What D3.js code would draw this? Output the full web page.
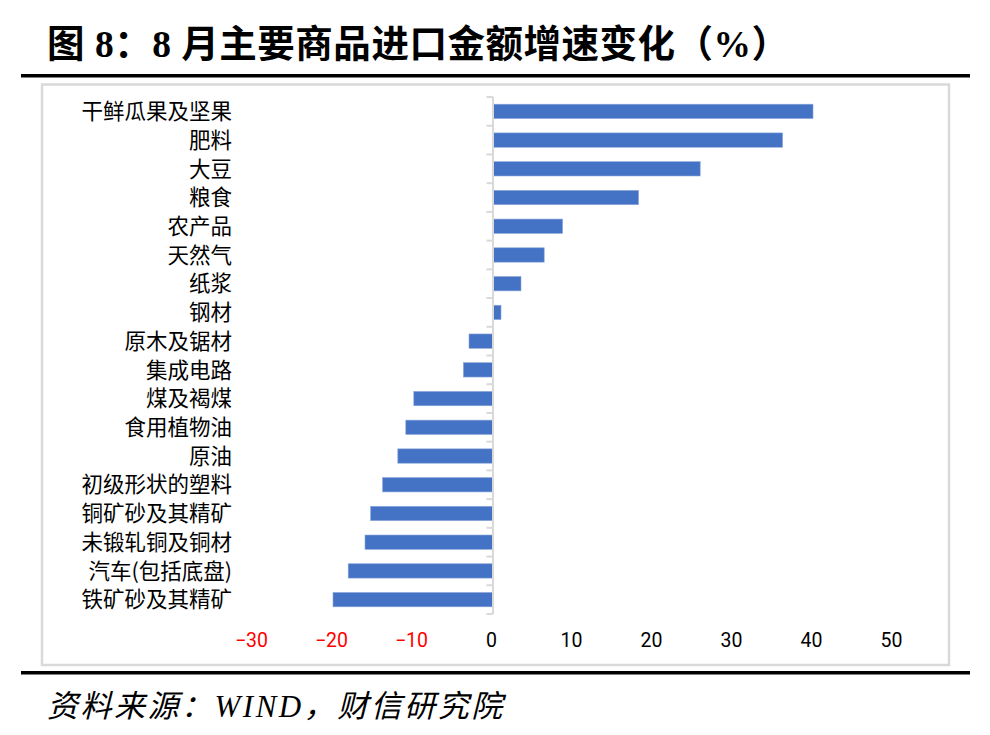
<!DOCTYPE html>
<html>
<head>
<meta charset="utf-8">
<script src="https://cdn.jsdelivr.net/npm/d3@7"></script>
<style>
  html, body { margin: 0; padding: 0; background: #fff; }
  svg { display: block; }
</style>
</head>
<body>
<svg id="chart" width="990" height="735"></svg>
<script>
const titleText = "图 8：8 月主要商品进口金额增速变化（%）";
const sourceText = "资料来源：WIND，财信研究院";
const categories = ["干鲜瓜果及坚果","肥料","大豆","粮食","农产品","天然气","纸浆","钢材","原木及锯材","集成电路","煤及褐煤","食用植物油","原油","初级形状的塑料","铜矿砂及其精矿","未锻轧铜及铜材","汽车(包括底盘)","铁矿砂及其精矿"];
const values = [40.0, 36.2, 25.9, 18.2, 8.7, 6.4, 3.5, 1.0, -3.0, -3.7, -9.9, -10.9, -11.9, -13.8, -15.3, -16.0, -18.1, -20.0];
const xTicks = [-30, -20, -10, 0, 10, 20, 30, 40, 50];

const svg = d3.select("#chart");
const CJK = "'Noto Sans CJK SC', 'Noto Sans', sans-serif";

// Title
svg.append("text")
  .attr("x", 47).attr("y", 57)
  .attr("font-family", "'Liberation Serif', 'Noto Sans CJK SC', serif")
  .attr("font-weight", "bold")
  .attr("font-size", 37.5)
  .attr("textLength", 742)
  .attr("lengthAdjust", "spacing")
  .attr("fill", "#000")
  .text(titleText);

// Rules
svg.append("rect").attr("x", 21).attr("y", 74).attr("width", 949).attr("height", 3.5).attr("fill", "#000");
svg.append("rect").attr("x", 21).attr("y", 671).attr("width", 949).attr("height", 3.5).attr("fill", "#000");

// Chart border
svg.append("rect").attr("x", 42).attr("y", 84.5).attr("width", 907).attr("height", 580.5)
  .attr("fill", "#fff").attr("stroke", "#d9d9d9").attr("stroke-width", 2.5);

// Scales
const x = d3.scaleLinear().domain([-30, 50]).range([253, 893]);
const y = d3.scaleBand().domain(categories).range([97, 614]).paddingInner(0.5).paddingOuter(0.25);

// Bars
svg.append("g").selectAll("rect").data(categories).join("rect")
  .attr("x", (d, i) => x(Math.min(0, values[i])))
  .attr("y", d => y(d))
  .attr("width", (d, i) => Math.abs(x(values[i]) - x(0)))
  .attr("height", y.bandwidth())
  .attr("fill", "#4472c4")
  .attr("stroke", "#8ea9db")
  .attr("stroke-width", 0.6);

// Category axis line and boundary ticks
const gap = (y.step() - y.bandwidth()) / 2;
const bounds = categories.map(d => y(d) - gap).concat([y(categories[categories.length - 1]) + y.bandwidth() + gap]);
const axisG = svg.append("g");
axisG.selectAll("line.tk").data(bounds).join("line")
  .attr("class", "tk")
  .attr("x1", x(0) - 6.5).attr("x2", x(0))
  .attr("y1", d => d).attr("y2", d => d)
  .attr("stroke", "#d9d9d9").attr("stroke-width", 2);
axisG.append("line")
  .attr("x1", x(0)).attr("x2", x(0))
  .attr("y1", bounds[0]).attr("y2", bounds[bounds.length - 1])
  .attr("stroke", "#d9d9d9").attr("stroke-width", 2);

// Category labels
svg.append("g").selectAll("text").data(categories).join("text")
  .attr("x", 232)
  .attr("y", d => y(d) + y.bandwidth() / 2)
  .attr("dy", "0.36em")
  .attr("text-anchor", "end")
  .attr("font-family", CJK)
  .attr("font-size", 21.5)
  .attr("fill", "#000")
  .text(d => d);

// X axis labels
const xAxis = d3.axisBottom(x).tickValues(xTicks).tickSize(0).tickPadding(0).tickFormat(d3.format("d"));
const xg = svg.append("g").attr("transform", "translate(-2, 633)").call(xAxis);
xg.select(".domain").remove();
xg.selectAll("text")
  .attr("font-family", "Roboto, 'Liberation Sans', sans-serif")
  .attr("font-size", 19.5)
  .attr("fill", d => d < 0 ? "#ff0000" : "#000");

// Source
svg.append("text")
  .attr("x", 47).attr("y", 717)
  .attr("font-family", "'Liberation Serif', 'Noto Sans CJK SC', serif")
  .attr("font-style", "italic")
  .attr("font-size", 31)
  .attr("letter-spacing", 2.5)
  .attr("fill", "#000")
  .text(sourceText);
</script>
</body>
</html>
